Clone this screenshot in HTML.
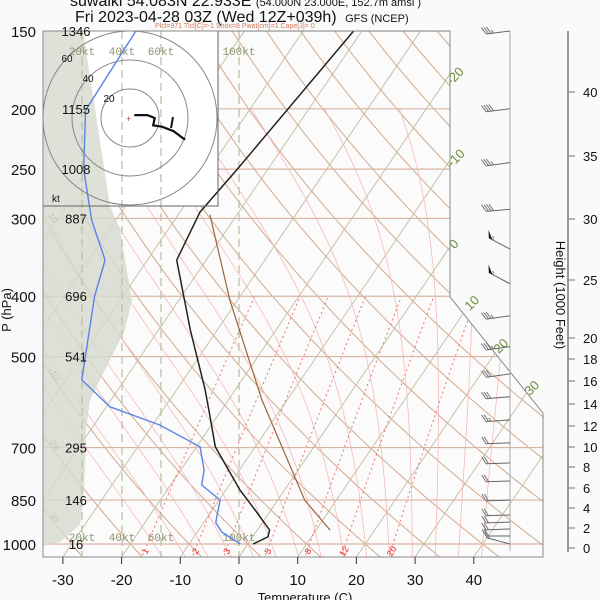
<!DOCTYPE html>
<html><head><meta charset="utf-8">
<style>
html,body{margin:0;padding:0;background:#fafafa;}
svg{display:block;font-family:"Liberation Sans",sans-serif;}
</style></head>
<body>
<svg id="chart" width="600" height="600" viewBox="0 0 600 600">
<defs><clipPath id="plotClip"><polygon points="43,31 450,31 450,297 543,413 543,557 43,557"/></clipPath>
<clipPath id="hodoClip"><rect x="43" y="31" width="175" height="175"/></clipPath></defs>
<rect x="0" y="0" width="600" height="600" fill="#fafafa"/>
<g id="grid" clip-path="url(#plotClip)"></g>
<g id="hodo"></g>
<g id="series" clip-path="url(#plotClip)"></g>
<g id="hodotop"></g>
<g id="axes"></g>
<g id="barbs"></g>
<text x="70" y="6" font-size="16" fill="#111">suwalki 54.083N 22.933E <tspan font-size="11">(54.000N 23.000E, 152.7m amsl )</tspan></text>
<text x="75" y="22" font-size="16" fill="#111">Fri 2023-04-28 03Z (Wed 12Z+039h) <tspan font-size="11" dx="4">GFS (NCEP)</tspan></text>
<text x="155" y="28" font-size="7" fill="#d07a5a">Plcl=971 Tlcl[C]=-1 Shox=8 Pwat[cm]=1 Cape[J]= 0</text>
</svg>
<script>
// ---- data ----
const tempP = [150,249,293,350,453,566,621,698,819,882,950,974,1000];
const tempT = [-41.4,-45.2,-46.6,-45.0,-34.6,-25.1,-21.4,-16.8,-7.6,-2.7,2.1,2.6,0.9];
const dewP = [150,201,250,302,350,400,470,545,602,644,698,761,804,850,898,925,957,1000];
const dewT = [-78.5,-77.9,-71.4,-64.1,-57.2,-54.8,-50.9,-47.3,-39.4,-28.8,-19.4,-16.0,-14.7,-9.8,-8.6,-7.9,-5.8,-1.3];
const parcelP = [296,406,587,850,950];
const parcelT = [-44.6,-31.3,-14.3,4.6,12.4];
const pressureTicks = [150,200,250,300,400,500,700,850,1000];
const heightLabels = ["1346","1155","1008","887","696","541","295","146","16"];
const tempTicks = [-30,-20,-10,0,10,20,30,40];
const mixRatios = [1,2,3,5,8,12,20];
const heightTicks = [40,35,30,25,20,18,16,14,12,10,8,6,4,2,0];
const heightTickY = [92,156,219,280,338,359,381,404,426,447,467,488,508,528,548];
const barbP = [150,200,244,290,336,382,430,482,533,580,632,688,741,792,850,898,922,946,971,1000];
const barbDir = [263,263,262,265,298,298,262,262,262,265,266,268,268,268,268,268,268,268,270,285];
const barbSpd = [35,40,35,40,55,55,35,35,30,30,25,20,20,20,20,20,20,20,20,15];
const hodoU = [3,12,17,16,22,30,38];
const hodoV = [2,2,0,-5,-6,-9,-15];

// ---- scales ----
const NS="http://www.w3.org/2000/svg";
function yP(p){return 544-270.4*Math.log(1000/p);}
function xT(t,p){return 239+5.87*t+0.68*(557-yP(p));}
function mk(tag,attrs,parent){const e=document.createElementNS(NS,tag);for(const k in attrs)e.setAttribute(k,attrs[k]);parent.appendChild(e);return e;}
function pathOf(pts){return pts.map((q,i)=>(i?'L':'M')+q[0].toFixed(1)+','+q[1].toFixed(1)).join('');}
const grid=document.getElementById('grid'),series=document.getElementById('series'),axes=document.getElementById('axes'),hodo=document.getElementById('hodo'),hodotop=document.getElementById('hodotop'),barbs=document.getElementById('barbs');
mk('rect',{x:43,y:31,width:500,height:526,fill:'#fbfbfb'},grid);

// isotherms
for(let t=-120;t<=40;t+=10){let e=mk('path',{d:pathOf([[xT(t,1100),yP(1100)],[xT(t,100),yP(100)]]),stroke:'#c5c3a5',fill:'none','stroke-width':1},grid);

}
// dry adiabats
for(let th=-40;th<=200;th+=10){let pts=[];for(let p=1100;p>=140;p-=10){pts.push([xT((th+273.15)*Math.pow(p/1000,0.286)-273.15,p),yP(p)]);}
let e=mk('path',{d:pathOf(pts),stroke:'#d2aa8c',fill:'none','stroke-width':1},grid);

}
// moist adiabats
function es(t){return 6.112*Math.exp(17.67*t/(t+243.5));}
for(let t0=-16;t0<=40;t0+=4){let pts=[];let T=t0+273.15;for(let p=1000;p>=200;p-=5){pts.push([xT(T-273.15,p),yP(p)]);
let rs=0.622*es(T-273.15)/(p-es(T-273.15));let d=(287*T+2.5e6*rs)/(p*(1004+2.5e6*2.5e6*rs*0.622/(287*T*T)));T-=d*5;}
let T2=t0+273.15,p2=[];for(let p=1000;p<=1060;p+=5){p2.push([xT(T2-273.15,p),yP(p)]);let rs=0.622*es(T2-273.15)/(p-es(T2-273.15));T2+=(287*T2+2.5e6*rs)/(p*(1004+2.5e6*2.5e6*rs*0.622/(287*T2*T2)))*5;}
let e=mk('path',{d:pathOf(p2.reverse().concat(pts)),stroke:'#f6b8b8',fill:'none','stroke-width':0.8},grid);

}
// mixing ratio
mixRatios.forEach(w=>{let pts=[];for(let p=1060;p>=400;p-=10){let e=w*p/(622+w);let l=Math.log(e/6.112);pts.push([xT(243.5*l/(17.67-l),p),yP(p)]);}
let e=mk('path',{d:pathOf(pts),stroke:'#f07070',fill:'none','stroke-width':1,'stroke-dasharray':'2,3'},grid);


let ee=w*1025/(622+w),l=Math.log(ee/6.112),tt=243.5*l/(17.67-l);
let lb=mk('text',{x:xT(tt,1025),y:yP(1025)+4,'font-size':9,fill:'#ee2020','text-anchor':'middle',transform:`rotate(-60 ${xT(tt,1025)} ${yP(1025)})`},grid);lb.textContent=w;

});
// isobars
pressureTicks.forEach(p=>{let e=mk('line',{x1:43,x2:543,y1:yP(p),y2:yP(p),stroke:'#d9b4a2','stroke-width':1.2},grid);

});
[['10',48,215],['-10',48,370],['-20',48,440],['-30',48,512]].forEach(a=>{let t=mk('text',{x:a[1],y:a[2],'font-size':9,fill:'#a0603a',transform:`rotate(60 ${a[1]} ${a[2]})`},grid);t.textContent=a[0];

});

// hodograph box (under series)
let hb=mk('rect',{x:43,y:31,width:175,height:175,fill:'#fff',stroke:'#666','stroke-width':1},hodo);



// shaded region
let sh=mk('path',{d:'M43,31 L83,31 L110,206 L120,230 L132,300 L125,330 L110,360 L90,400 L86,430 L85,470 L83,500 L80,525 L60,542 L43,546 Z',fill:'#d6dacd','fill-opacity':0.8},series);


// hodograph dashed speed lines
[82,122,161,239].forEach(x=>{let e=mk('line',{x1:x,x2:x,y1:31,y2:557,stroke:'#bcc0a6','stroke-width':1.3,'stroke-dasharray':'8,5'},series);

});
[['20kt',82],['40kt',122],['60kt',161],['100kt',239]].forEach(a=>{[55,541].forEach(y=>{let t=mk('text',{x:a[1],y:y,'font-size':11,fill:'#8d9470','font-family':'Liberation Mono, monospace','text-anchor':'middle'},series);t.textContent=a[0];

});});
let hg=mk('g',{'clip-path':'url(#hodoClip)'},series);
[1,2,3].forEach(k=>{let c=mk('circle',{cx:130,cy:118,r:29*k,fill:'none',stroke:'#888','stroke-width':1},hg);

});
[['20',109,102],['40',88,82],['60',67,62]].forEach(a=>{let t=mk('text',{x:a[1],y:a[2],'font-size':10,fill:'#111','text-anchor':'middle'},hg);t.textContent=a[0];});

// series
function line(P,T,color,w,name){let e=mk('path',{d:pathOf(P.map((p,i)=>[xT(T[i],p),yP(p)])),stroke:color,fill:'none','stroke-width':w},series);

}
line(parcelP,parcelT,'#a0603a',1.2,'parcel-line');
line(dewP,dewT,'#5a82e8',1.4,'dewpoint-line');
line(tempP,tempT,'#222',1.5,'temperature-line');

// hodograph trace
let kt=mk('text',{x:52,y:202,'font-size':10,fill:'#111'},hodotop);kt.textContent='kt';
mk('text',{x:126,y:122,'font-size':9,fill:'#c04040'},hodotop).textContent='+';
let hp=mk('path',{d:pathOf(hodoU.map((u,i)=>[130+u*29/20,118-hodoV[i]*29/20])),stroke:'#111','stroke-width':2.2,fill:'none'},hodotop);


mk('path',{d:'M173,117 L171,128',stroke:'#111','stroke-width':2,fill:'none'},hodotop);
mk('rect',{x:43,y:31,width:175,height:175,fill:'none',stroke:'#666','stroke-width':1},hodotop);
mk('path',{d:'M450,31 L450,297 L543,413 L543,557 L43,557 L43,31 Z',stroke:'#888',fill:'none','stroke-width':1},axes);

// left axis labels
pressureTicks.forEach((p,i)=>{let t=mk('text',{x:36,y:yP(p)+6,'font-size':15,fill:'#111','text-anchor':'end'},axes);t.textContent=p;


let h=mk('text',{x:76,y:yP(p)+5,'font-size':13,fill:'#111','text-anchor':'middle'},axes);h.textContent=heightLabels[i];

});
let pl=mk('text',{x:11,y:310,'font-size':13,fill:'#111','text-anchor':'middle',transform:'rotate(-90 11 310)'},axes);pl.textContent='P (hPa)';


// isotherm labels
[['-20',458,79],['-10',459,161],['0',457,247],['10',475,306],['20',504,349],['30',535,391]].forEach(a=>{let t=mk('text',{x:a[1],y:a[2],'font-size':13,fill:'#6b8a3a','text-anchor':'middle',transform:`rotate(-45 ${a[1]} ${a[2]})`},axes);t.textContent=a[0];

});
// bottom axis
tempTicks.forEach(t=>{let x=239+5.87*t;mk('line',{x1:x,x2:x,y1:557,y2:564,stroke:'#333'},axes);
let l=mk('text',{x:x,y:585,'font-size':15,fill:'#111','text-anchor':'middle'},axes);l.textContent=t;

});
let tl=mk('text',{x:305,y:602,'font-size':13,fill:'#111','text-anchor':'middle'},axes);tl.textContent='Temperature (C)';


// height axis
mk('line',{x1:568,x2:568,y1:31,y2:552,stroke:'#999','stroke-width':2},axes);
heightTicks.forEach((h,i)=>{mk('line',{x1:568,x2:575,y1:heightTickY[i],y2:heightTickY[i],stroke:'#777'},axes);
let l=mk('text',{x:583,y:heightTickY[i]+5,'font-size':13,fill:'#111'},axes);l.textContent=h;

});
let hl=mk('text',{x:556,y:295,'font-size':13,fill:'#111','text-anchor':'middle',transform:'rotate(90 556 295)'},axes);hl.textContent='Height (1000 Feet)';



// wind barbs
mk('line',{x1:510,x2:510,y1:31,y2:551,stroke:'#aaa'},barbs);
barbP.forEach((p,i)=>{let y=Math.min(yP(p),551),d=barbDir[i]*Math.PI/180,ux=Math.sin(d),uy=-Math.cos(d);
let bx=510+ux*24,by=y+uy*24;
let a=Math.PI/3,fx=ux*Math.cos(a)-uy*Math.sin(a),fy=ux*Math.sin(a)+uy*Math.cos(a);
if(fy>0){a=-a;fx=ux*Math.cos(a)-uy*Math.sin(a);fy=ux*Math.sin(a)+uy*Math.cos(a);}
let g=mk('g',{},barbs);


mk('line',{x1:510,y1:y,x2:bx,y2:by,stroke:'#666','stroke-width':1},g);
let s=barbSpd[i],pos=0;
while(s>=50){mk('polygon',{points:`${bx-ux*pos},${by-uy*pos} ${bx-ux*pos+fx*8},${by-uy*pos+fy*8} ${bx-ux*(pos+4)},${by-uy*(pos+4)}`,fill:'#111'},g);s-=50;pos+=5;}
while(s>=10){mk('line',{x1:bx-ux*pos,y1:by-uy*pos,x2:bx-ux*pos+fx*8,y2:by-uy*pos+fy*8,stroke:'#777'},g);s-=10;pos+=2.5;}
if(s>=5){mk('line',{x1:bx-ux*pos,y1:by-uy*pos,x2:bx-ux*pos+fx*4,y2:by-uy*pos+fy*4,stroke:'#777'},g);}
});
</script>
</body></html>
